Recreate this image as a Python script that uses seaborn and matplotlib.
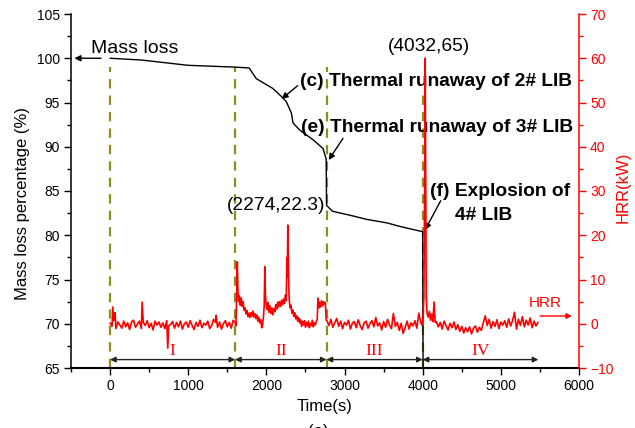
import numpy as np
import pandas as pd
import matplotlib
matplotlib.use("Agg")
import matplotlib.pyplot as plt
import seaborn as sns
from matplotlib.ticker import MultipleLocator

# ---------------- data ----------------
mass_time = [0, 400, 1000, 1600, 1780, 1810, 1870, 2080, 2190, 2255, 2320, 2340,
             2425, 2595, 2725, 2765, 2770, 2800, 2850, 3100, 3280, 3540, 3707, 4000, 4005]
mass_value = [100.0, 99.8, 99.2, 99.0, 98.9, 98.5, 97.7, 96.6, 95.7, 95.1, 93.8, 92.7,
              91.9, 90.8, 89.8, 88.6, 83.4, 83.1, 82.7, 82.2, 81.8, 81.4, 81.0, 80.4, 64.0]

# HRR, phase I baseline (every 25 s from 0 s)
hrr_I = [0.2, -0.6, 0.7, -1.1, 0.4, -0.3, -1.0, 0.6, -0.7, 0.2,
         -1.3, 0.4, 0.8, -0.8, -0.1, 0.6, -1.1, 0.3, -0.4, 0.7,
         -0.9, 0.1, -1.4, 0.6, -0.3, 0.4, -0.8, 0.2, -1.1, 0.7,
         -0.5, -0.1, 0.5, -1.0, 0.3, -0.7, 0.6, -1.2, 0.0, 0.4,
         -0.8, 0.7, -0.4, -1.3, 0.3, -0.6, 0.8, -0.9, 0.1, -0.3,
         0.6, -1.1, -0.4, 1.0, 0.3, -0.8, 0.4, -1.2, 0.0, 0.7,
         -0.7, 0.3, -1.0, 0.8]
hrr_I_spike_t = [34, 64, 375, 410, 738, 1357]
hrr_I_spike_v = [3.8, 2.5, -5.5, 4.9, -5.5, 1.9]

# phase II (explicit samples)
hrr_II_t = [1600, 1610, 1618, 1628, 1636, 1645, 1655, 1665, 1678, 1690, 1702, 1715, 1728, 1740,
            1752, 1765, 1778, 1790, 1803, 1815, 1828, 1840, 1853, 1865, 1878, 1890, 1903, 1915,
            1928, 1940, 1952, 1962, 1972, 1980, 1988, 1996, 2008, 2020, 2032, 2045, 2058, 2070,
            2083, 2095, 2108, 2120, 2133, 2145, 2158, 2170, 2183, 2195, 2208, 2220, 2232, 2244,
            2254, 2262, 2268, 2274, 2280, 2286, 2292, 2302, 2314, 2326, 2338, 2350, 2362, 2375,
            2388, 2400, 2413, 2425, 2438, 2450, 2463, 2475, 2488, 2500, 2513, 2525, 2538, 2550,
            2563, 2575, 2588, 2600, 2613, 2625, 2638, 2650, 2660, 2670, 2682, 2694, 2706, 2718,
            2730, 2742, 2755, 2765]
hrr_II_v = [0.3, -0.5, 5.0, 14.0, 7.5, 5.0, 6.3, 4.2, 5.8, 3.9, 5.0, 3.1, 3.6, 2.2,
            3.0, 1.6, 2.4, 1.4, 2.5, 1.7, 2.9, 1.5, 2.3, 1.2, 2.0, 0.6, 1.5, 0.2,
            0.9, -0.9, -0.3, 1.5, 4.0, 12.9, 6.5, 4.5, 3.2, 4.8, 2.6, 4.1, 2.3, 3.6,
            2.0, 3.4, 2.7, 4.3, 3.3, 4.9, 3.8, 5.0, 3.9, 5.3, 4.3, 5.6, 4.6, 6.5,
            5.2, 15.0, 10.5, 22.3, 16.0, 8.5, 5.5, 3.6, 4.2, 2.4, 3.1, 1.7, 2.5, 1.1,
            1.8, 0.6, 1.4, 0.2, 0.9, -0.6, 0.5, -0.3, 0.7, -0.8, 0.3, -0.5, 0.6, -0.9,
            0.1, -0.4, 0.8, -0.7, 0.2, -0.3, 0.5, 0.9, 5.8, 3.6, 4.9, 3.8, 5.2, 4.0,
            5.0, 4.4, 4.8, 0.8]

# phase III baseline (every 25 s from 2775 s)
hrr_III = [0.7, -0.4, 1.0, -0.8, 0.2, 1.2, -0.6, 0.6, -1.1, 0.3,
           -0.3, 0.8, -1.2, 0.1, 0.5, -0.9, 0.9, -0.4, -1.3, 0.2,
           0.6, -1.0, 0.0, 0.7, -0.7, 1.4, -0.5, 0.2, -1.4, 0.5,
           -0.8, 1.0, -0.3, -1.1, 2.3, -0.6, 0.3, -1.5, 0.1, -2.2,
           -0.9, 0.6, -1.2, 0.2, -0.5, 0.7, -1.0, 2.4, 0.3]

# explosion of 4# LIB
hrr_peak_t = [3990, 4005, 4015, 4025, 4032, 4038, 4045, 4055, 4070, 4085, 4100, 4115, 4130, 4146, 4160]
hrr_peak_v = [-0.3, 1.5, 6.0, 30.0, 60.0, 35.0, 6.0, 2.5, 1.5, 2.8, 0.8, 2.2, 0.5, 4.9, 0.3]

# phase IV baseline (every 25 s from 4175 s)
hrr_IV = [0.5, -0.7, 0.3, -1.2, 0.6, -0.5, -1.4, 0.1, -0.9, 0.4,
          -1.3, -0.2, -1.7, -0.6, -2.1, -0.9, -1.8, -0.7, -2.3, -1.0,
          -0.5, -1.9, -0.8, -1.5, 0.2, 1.8, -0.4, 1.0, -1.0, 0.5,
          -0.6, 0.9, -1.1, 0.4, -0.3, 0.7, -0.8, 1.1, -0.5, 0.7,
          2.6, -1.2, 1.0, -0.4, 1.6, -0.7, 0.8, -0.3, 1.3, -0.9,
          0.6, -0.5, 0.3]

phase_bounds = [0, 1600, 2770, 4000, 5480]
phase_labels = ["I", "II", "III", "IV"]
divider_time = [0, 1600, 2770, 4000]
divider_top = [99.0, 99.0, 99.0, 95.8]

# ---------------- assemble HRR table ----------------
t_parts, v_parts = [], []
t_parts.append(0 + 25 * np.arange(len(hrr_I))); v_parts.append(np.array(hrr_I))
t_parts.append(np.array(hrr_I_spike_t)); v_parts.append(np.array(hrr_I_spike_v))
t_parts.append(np.array(hrr_II_t)); v_parts.append(np.array(hrr_II_v))
t_parts.append(2775 + 25 * np.arange(len(hrr_III))); v_parts.append(np.array(hrr_III))
t_parts.append(np.array(hrr_peak_t)); v_parts.append(np.array(hrr_peak_v))
t_parts.append(4175 + 25 * np.arange(len(hrr_IV))); v_parts.append(np.array(hrr_IV))
hrr_df = pd.DataFrame({"t": np.concatenate(t_parts).astype(float),
                       "v": np.concatenate(v_parts).astype(float)})
hrr_df = hrr_df.sort_values("t").drop_duplicates("t").reset_index(drop=True)
mass_df = pd.DataFrame({"t": mass_time, "m": mass_value})

# ---------------- style ----------------
sns.set_theme(style="ticks")
plt.rcParams["font.family"] = ["Liberation Sans", "DejaVu Sans"]
plt.rcParams["axes.linewidth"] = 1.1
for k in ["text.color", "axes.labelcolor", "xtick.color", "ytick.color", "axes.edgecolor"]:
    plt.rcParams[k] = "black"

W, H = 635, 428
fig = plt.figure(figsize=(W / 100, H / 100), dpi=100)
ax = fig.add_axes([71 / W, 1 - 368 / H, 508 / W, 354 / H])
ax2 = ax.twinx()

RED = "#ff0000"
OLIVE = "#8e8e1c"

# dividers
for xt, top in zip(divider_time, divider_top):
    ax.plot([xt, xt], [65, top], color=OLIVE, lw=1.6, dashes=(4.2, 3.2), zorder=1)

# mass curve
sns.lineplot(data=mass_df, x="t", y="m", ax=ax, color="black", lw=1.0,
             estimator=None, sort=False, zorder=3)

# HRR curve
sns.lineplot(data=hrr_df, x="t", y="v", ax=ax2, color=RED, lw=1.2,
             estimator=None, sort=False, zorder=3)

# axes limits & ticks
ax.set_xlim(-500, 6000)
ax.set_ylim(65, 105)
ax2.set_ylim(-10, 70)
ax.xaxis.set_major_locator(MultipleLocator(1000))
ax.xaxis.set_minor_locator(MultipleLocator(500))
ax.yaxis.set_major_locator(MultipleLocator(5))
ax.yaxis.set_minor_locator(MultipleLocator(2.5))
ax2.yaxis.set_major_locator(MultipleLocator(10))
ax2.yaxis.set_minor_locator(MultipleLocator(5))

ax.tick_params(axis="both", which="major", direction="out", length=5, width=1,
               labelsize=10, colors="black", pad=3)
ax.tick_params(axis="both", which="minor", direction="out", length=3, width=1, colors="black")
ax2.tick_params(axis="y", which="major", direction="out", length=5, width=1,
                labelsize=10, colors=RED, pad=3)
ax2.tick_params(axis="y", which="minor", direction="out", length=3, width=1, colors=RED)

ax.spines["top"].set_visible(False)
ax2.spines["top"].set_visible(False)
ax.spines["right"].set_visible(False)
ax2.spines["left"].set_visible(False)
ax2.spines["bottom"].set_visible(False)
ax2.spines["right"].set_color(RED)
ax.spines["bottom"].set_linewidth(1.5)

ax.set_xlabel("Time(s)", fontsize=12, labelpad=4)
ax.set_ylabel("Mass loss percentage (%)", fontsize=12)
ax.yaxis.set_label_coords(-0.081, 0.465)
ax2.set_ylabel("HRR(kW)", fontsize=12, color=RED)
ax2.yaxis.set_label_coords(1.072, 0.51)

# phase arrows & labels
for x0, x1, lab in zip(phase_bounds[:-1], phase_bounds[1:], phase_labels):
    ax.annotate("", xy=(x1, 65.95), xytext=(x0, 65.95),
                arrowprops=dict(arrowstyle="<|-|>", color="#222222", lw=1.0,
                                mutation_scale=8, shrinkA=0, shrinkB=0))
    ax.text((x0 + x1) / 2, 66.9, lab, color=RED, fontsize=12.5, ha="center", va="center",
            family=["Liberation Serif", "DejaVu Serif"])

# annotations
arrow_k = dict(arrowstyle="-|>", color="black", lw=1.0, mutation_scale=9, shrinkA=0, shrinkB=0)
ax.annotate("", xy=(-457, 100), xytext=(-115, 100), arrowprops=arrow_k)
ax.text(-243, 101.07, "Mass loss", fontsize=14, ha="left", va="center")

ax.annotate("", xy=(2195, 95.4), xytext=(2400, 96.9), arrowprops=arrow_k)
ax.text(2425, 97.35, "(c) Thermal runaway of 2# LIB", fontsize=13.8, fontweight="bold",
        ha="left", va="center")
ax.annotate("", xy=(2797, 88.5), xytext=(2980, 90.95), arrowprops=arrow_k)
ax.text(2447, 92.2, "(e) Thermal runaway of 3# LIB", fontsize=13.8, fontweight="bold",
        ha="left", va="center")
ax.annotate("", xy=(4030, 80.6), xytext=(4230, 83.9), arrowprops=arrow_k)
ax.text(4096, 84.9, "(f) Explosion of", fontsize=13.8, fontweight="bold", ha="left", va="center")
ax.text(4411, 82.2, "4# LIB", fontsize=13.8, fontweight="bold", ha="left", va="center")

ax2.text(2127, 26.8, "(2274,22.3)", fontsize=13.8, ha="center", va="center")
ax2.text(4081, 62.6, "(4032,65)", fontsize=13.8, ha="center", va="center")
ax2.text(5564, 4.7, "HRR", fontsize=11, color=RED, ha="center", va="center")
ax2.annotate("", xy=(5910, 1.75), xytext=(5501, 1.75),
             arrowprops=dict(arrowstyle="-|>", color=RED, lw=1.0, mutation_scale=8,
                             shrinkA=0, shrinkB=0))

fig.text(318 / W, 1 - 424 / H, "(a)", fontsize=12, ha="center", va="top")

fig.savefig("out.png", dpi=100)
